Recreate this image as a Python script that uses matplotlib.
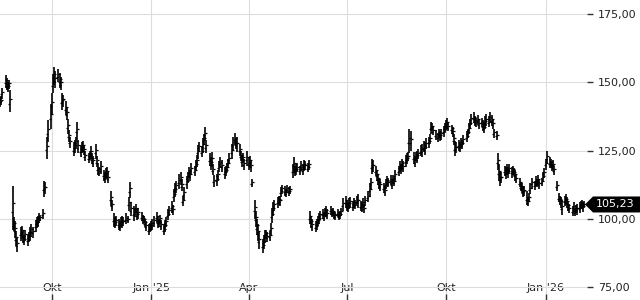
import matplotlib
matplotlib.use("Agg")
import matplotlib.pyplot as plt
import matplotlib.dates as mdates
import matplotlib.transforms as mtransforms
from matplotlib.patches import Polygon
import numpy as np
import pandas as pd

# trading days shown on the chart
days = pd.bdate_range("2024-08-14", "2026-02-06")

# daily low / high, one row per month
low = [
    141, 141.5, 144, 148, 147, 146.5, 147.5, 139, 96, 95.5, 93, 90, 88,  # aug 24
    92, 93, 91, 90.5, 92, 90, 91.5, 92, 93.5, 93, 95, 96.5, 97, 98.5, 99, 100, 108, 109, 122, 128, 133,  # sep
    138, 146, 149, 148, 150, 148, 147, 140, 141, 138, 136, 131, 128, 126, 123, 124, 126, 129, 124, 122.5, 124, 125, 123.5,  # oct
    121, 120.5, 121.5, 122, 120, 119, 122, 119, 116, 115.5, 116.5, 114, 113, 114.5, 115, 113, 104.5, 103, 97, 96.5, 97.5,  # nov
    96, 95.5, 97, 96.5, 97.5, 98, 98.5, 103, 107.5, 101, 99, 100.5, 102, 99.5, 100, 99, 98, 98.5, 97, 95.5, 94, 95,  # dec
    95.5, 96, 97, 98.5, 96.5, 97, 98, 96, 94, 95, 97, 99.5, 101, 102, 101.5, 106, 108, 109.5, 111, 112.5, 110, 104.5, 107,  # jan 25
    111, 113, 115, 114, 116, 115.5, 117.5, 119, 122, 124.5, 122.5, 124, 127, 128.5, 124, 119.5, 118, 119, 116, 111.5,  # feb
    112, 114, 117, 118.5, 117, 114.5, 115.5, 117, 118.5, 120, 122, 125, 127, 125.5, 124.5, 123, 121, 119, 120.5, 118, 119.5,  # mar
    118, 119, 117, 111.5, 100, 97, 94, 92, 89, 87.5, 89, 91, 92.5, 91.5, 92, 94, 98.5, 101, 103, 104, 105, 104.5,  # apr
    108, 109, 108.5, 108, 109.5, 108.5, 109, 115, 117, 115.5, 116, 117, 116, 117.5, 116, 117.5, 118, 117, 118, 98, 96.5, 95.5,  # may
    95, 96, 97.5, 98, 99.5, 100, 99, 100.5, 101, 100, 101.5, 100.5, 101, 100, 99.5, 100.5, 99.5, 100, 101, 103, 104,  # jun
    103, 102.5, 103.5, 104, 103, 104, 103.5, 104.5, 104, 103, 102.5, 104, 102, 104.5, 106, 108, 111, 116.5, 117, 115.5, 114, 112.5, 111,  # jul
    110, 109.5, 108.5, 111, 112, 111.5, 112.5, 111, 113, 112, 114, 115.5, 117, 116.5, 118, 117, 119, 120, 121, 124, 125,  # aug
    120, 119, 121, 120.5, 122, 123, 122.5, 124.5, 123.5, 125.5, 126, 127.5, 131, 132, 130.5, 129, 128, 129.5, 128.5, 129, 130, 131.5,  # sep
    132.5, 133, 132, 131, 130, 127, 123, 124, 125, 124.5, 126, 125.5, 127, 128, 129.5, 131, 133, 134.5, 135, 134, 133.5, 134.5, 133,  # oct
    133.5, 132, 131.5, 133, 134, 133.5, 135, 134, 133, 129.5, 129, 118, 114, 112, 113, 115.5, 114.5, 116, 115, 116.5,  # nov
    115, 116, 115.5, 114, 113, 111.5, 110, 109.5, 108, 108.5, 105, 104.5, 106, 109, 111, 110.5, 112, 111.5, 112.5, 111, 112, 113.5, 115,  # dec
    118, 120, 118.5, 119, 117.5, 118, 116, 110, 106, 105, 104, 101.5, 104.5, 105, 104, 103, 102, 101, 102.5, 101, 102, 101.5,  # jan 26
    102, 103.5, 104, 102.5, 104,  # feb
]
high = [
    144.5, 145, 148, 152.5, 151.5, 150, 151, 147, 112, 100.5, 99, 95.5, 93,
    97, 97.5, 95.5, 94, 96, 94.5, 95, 97, 98, 97, 99.5, 100.5, 101, 102, 101.5, 103.5, 114, 113.5, 130, 136, 142,
    146, 153, 155.5, 154, 155, 153.5, 152, 146, 145.5, 143, 141, 136.5, 132.5, 130, 128, 129, 130, 135.5, 129, 127, 128, 128.5, 127,
    125, 124, 125, 126.5, 124, 123, 127.5, 123, 120.5, 119, 121, 118, 117, 118.5, 119, 117, 110, 107, 102, 100.5, 101,
    100, 99, 100.5, 101, 100.5, 102, 101, 108, 113.5, 106, 104.5, 104, 105.5, 103.5, 104, 102.5, 101.5, 101, 100, 99, 98, 98.5,
    99, 100, 101, 102.5, 101, 100, 101.5, 99.5, 98, 99.5, 100.5, 103.5, 104.5, 106.5, 105, 111, 113, 114, 116.5, 117, 114.5, 108.5, 111.5,
    115.5, 117, 119, 118, 120.5, 119.5, 121.5, 123.5, 127, 128, 126.5, 129.5, 131, 133.5, 129, 124, 122.5, 124.5, 120, 116,
    116.5, 118, 121, 122.5, 121.5, 119, 119.5, 120.5, 122, 124, 127.5, 130, 131.5, 129.5, 130, 127.5, 125, 123.5, 124, 122, 125,
    122.5, 123, 121.5, 114.5, 107, 103, 100, 98, 95, 92.5, 94, 96, 96, 95, 95.5, 98.5, 104, 106, 107, 108, 108.5, 108.5,
    111.5, 112.5, 112, 111, 112.5, 111.5, 112, 120, 122.5, 119.5, 120, 120.5, 119.5, 121, 120, 121.5, 121, 120.5, 121.5, 103, 101, 100,
    99, 100, 101, 102, 103, 103.5, 102.5, 104, 104.5, 103.5, 104.5, 103.5, 104, 103, 102.5, 103.5, 102.5, 103, 104, 107.5, 108.5,
    107, 106, 107.5, 108, 106.5, 107.5, 107, 108.5, 109, 106.5, 106, 107.5, 105.5, 108.5, 110, 113, 115, 122, 121.5, 119.5, 118, 116.5, 115,
    114.5, 113, 112, 114.5, 115.5, 115, 116, 114.5, 116, 115, 118, 119.5, 121, 120, 122, 121, 123.5, 124, 124.5, 133, 132,
    124.5, 123, 124.5, 125, 125.5, 127, 127.5, 128.5, 128, 129.5, 130, 131, 135.5, 135, 134, 132.5, 131.5, 133, 132, 133, 134, 135,
    136, 137, 135.5, 134.5, 133.5, 131, 128.5, 128, 129, 128, 129.5, 129, 130.5, 132, 133, 135, 136.5, 138.5, 139, 137.5, 137, 138, 136.5,
    137, 136, 135, 137.5, 138.5, 137.5, 139, 138, 136.5, 133, 132, 124, 120, 117.5, 117, 119.5, 119, 120, 119, 120,
    119, 119.5, 118.5, 118, 116.5, 115, 113.5, 113, 111.5, 112, 110, 108, 109.5, 113, 115, 114, 115.5, 114.5, 116, 114.5, 115, 117, 118.5,
    122, 125, 122.5, 122, 121, 121.5, 119.5, 114, 109.5, 108.5, 108, 107, 108.5, 109, 108, 106.5, 105.5, 104.5, 106, 104, 105, 105.5,
    106, 106.5, 107, 106, 106.5,
]
last_price = 105.23

tick_dates = ["2024-10-01", "2025-01-01", "2025-04-01", "2025-07-01", "2025-10-01", "2026-01-01"]
tick_names = ["Okt", "Jan '25", "Apr", "Jul", "Okt", "Jan '26"]
y_ticks = [75, 100, 125, 150, 175]

assert len(days) == len(low) == len(high)

fig = plt.figure(figsize=(6.4, 3.0), dpi=100)
ax = fig.add_axes([0, 0, 587 / 640, 1])

x = mdates.date2num(days)
lo = np.array(low)
hi = np.array(high)
ax.vlines(x, lo, hi, color="black", lw=1.2, zorder=3)
# small open/close style ticks so the bars read like an OHLC series
ax.plot(x, lo + (hi - lo) * 0.4, ls="none", marker=0, ms=1.3, mew=0.9, color="black", zorder=3)
ax.plot(x, lo + (hi - lo) * 0.6, ls="none", marker=1, ms=1.3, mew=0.9, color="black", zorder=3)

ax.set_xlim(mdates.date2num(pd.Timestamp("2024-08-13 21:00")),
            mdates.date2num(pd.Timestamp("2026-02-08 09:00")))
ax.set_ylim(70.24, 180.13)

ax.set_xticks(mdates.date2num(pd.to_datetime(tick_dates)))
ax.set_xticklabels(tick_names)
ax.set_yticks(y_ticks)
ax.set_yticklabels([("%.2f" % v).replace(".", ",") for v in y_ticks])
ax.yaxis.tick_right()

ax.tick_params(axis="x", direction="in", length=4, width=1, color="#333333",
               pad=-12, labelsize=8, labelcolor="#222222")
ax.tick_params(axis="y", direction="out", length=4, width=1, color="#333333",
               pad=4, labelsize=8, labelcolor="#222222")

for s in ax.spines.values():
    s.set_visible(False)
ax.grid(True, color="#dddddd", lw=0.8)
ax.set_axisbelow(True)

# last price tag on the right
trans = mtransforms.blended_transform_factory(fig.transFigure, ax.transData)
h = 8 / 2.73
tag = Polygon([(585 / 640, last_price), (593 / 640, last_price + h), (1.0, last_price + h),
               (1.0, last_price - h), (593 / 640, last_price - h)],
              closed=True, facecolor="black", edgecolor="none", transform=trans,
              clip_on=False, zorder=5)
fig.patches.append(tag)
fig.text(596 / 640, last_price, ("%.2f" % last_price).replace(".", ","), color="white",
         fontsize=8, va="center", ha="left", transform=trans, zorder=6)

fig.savefig("out.png", dpi=100)
plt.close(fig)
